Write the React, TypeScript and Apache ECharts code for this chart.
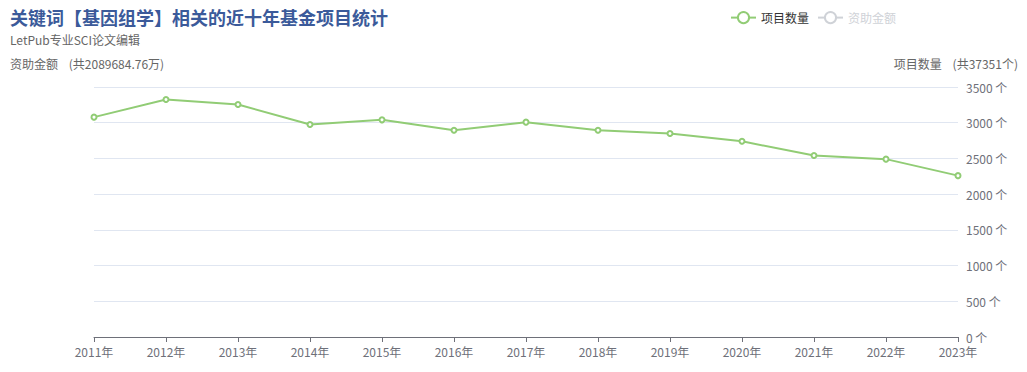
import React, { useEffect, useRef } from "react";
import * as echarts from "echarts";

const years = ["2011年", "2012年", "2013年", "2014年", "2015年", "2016年", "2017年", "2018年", "2019年", "2020年", "2021年", "2022年", "2023年"];
const projectCounts = [3078, 3325, 3255, 2975, 3040, 2895, 3008, 2895, 2848, 2740, 2540, 2490, 2259];
const fundingAmounts: number[] = [];
const yTicks = { min: 0, max: 3500, interval: 500 };

export default function App() {
  const ref = useRef<HTMLDivElement>(null);
  useEffect(() => {
    document.body.style.margin = "0";
    const chart = echarts.init(ref.current!, undefined, { renderer: "svg" });
    const font = "'Noto Sans CJK SC', 'Noto Sans', sans-serif";
    chart.setOption({
      animation: false,
      textStyle: { fontFamily: font },
      title: [
        {
          text: "关键词【基因组学】相关的近十年基金项目统计",
          subtext: "LetPub专业SCI论文编辑",
          left: 5,
          top: 3,
          itemGap: 8,
          textStyle: { fontSize: 18, fontWeight: "bold", color: "#3b5a9a", fontFamily: font },
          subtextStyle: { fontSize: 12, color: "#666", fontFamily: font },
        },
        {
          text: "资助金额\u00a0\u00a0\u00a0\u00a0(共2089684.76万)",
          left: 5,
          top: 52,
          textStyle: { fontSize: 12, fontWeight: "normal", color: "#666", fontFamily: font },
        },
        {
          text: "项目数量\u00a0\u00a0\u00a0\u00a0(共37351个)",
          right: 4,
          top: 52,
          textStyle: { fontSize: 12, fontWeight: "normal", color: "#666", fontFamily: font },
        },
      ],
      legend: {
        data: ["项目数量", "资助金额"],
        right: 126,
        top: 6,
        itemWidth: 25,
        itemHeight: 14,
        selected: { "项目数量": true, "资助金额": false },
        textStyle: { fontSize: 12, color: "#333" },
      },
      grid: { left: 94, right: 69, top: 87, bottom: 35 },
      xAxis: {
        type: "category",
        boundaryGap: false,
        data: years,
        axisLine: { lineStyle: { color: "#6e7079" } },
        axisTick: { show: true },
        axisLabel: { color: "#6e7079", fontSize: 12 },
      },
      yAxis: [
        {
          type: "value",
          position: "left",
          show: false,
        },
        {
          type: "value",
          position: "right",
          min: yTicks.min,
          max: yTicks.max,
          interval: yTicks.interval,
          axisLabel: { formatter: (v: number) => v + " 个", color: "#6e7079", fontSize: 12 },
          splitLine: { lineStyle: { color: "#e0e6f1" } },
          axisLine: { show: false },
          axisTick: { show: false },
        },
      ],
      series: [
        {
          name: "资助金额",
          type: "line",
          yAxisIndex: 0,
          data: fundingAmounts,
          itemStyle: { color: "#5470c6" },
        },
        {
          name: "项目数量",
          type: "line",
          yAxisIndex: 1,
          data: projectCounts,
          symbol: "emptyCircle",
          symbolSize: 5,
          lineStyle: { width: 2, color: "#91cc75" },
          itemStyle: { color: "#91cc75" },
        },
      ],
    });
    return () => chart.dispose();
  }, []);
  return <div ref={ref} style={{ width: 1027, height: 372 }} />;
}
